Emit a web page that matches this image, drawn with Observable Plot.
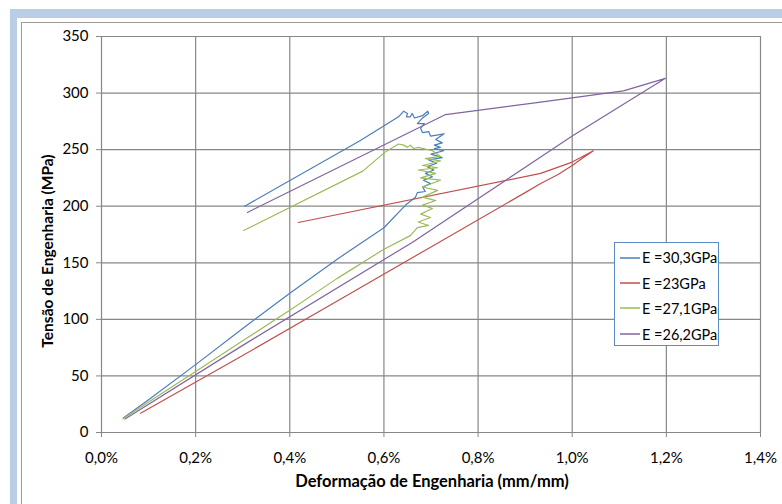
<!DOCTYPE html>
<html><head><meta charset="utf-8">
<script src="https://cdn.jsdelivr.net/npm/d3@7"></script>
<script src="https://cdn.jsdelivr.net/npm/@observablehq/plot@0.6"></script>
<style>
body{margin:0;background:#fff;}
#wrap{position:relative;width:782px;height:504px;overflow:hidden;background:#fff;font-family:Lato,sans-serif;}
.band-top{position:absolute;left:10px;top:9px;right:0;height:9px;background:#b9cde5;}
.band-left{position:absolute;left:10px;top:9px;width:7px;bottom:0;background:#b9cde5;}
.frame{position:absolute;left:21px;top:22px;width:800px;height:520px;border:1px solid #9a9a9a;box-sizing:border-box;}
#chart{position:absolute;left:0;top:0;}
#chart svg{background:transparent;}
#legend{position:absolute;left:614px;top:242px;width:105px;height:104px;border:1px solid #5b8bc6;box-sizing:border-box;background:#fff;}
.item{position:absolute;left:5px;height:16px;display:flex;align-items:center;font-size:14.5px;color:#000;white-space:nowrap;}
.item svg{margin-right:2px;}
.ytitle{position:absolute;left:47px;top:251px;transform:translate(-50%,-50%) rotate(-90deg);font-weight:bold;font-size:15.5px;white-space:nowrap;color:#000;}
.xtitle{position:absolute;left:432px;top:481px;transform:translate(-50%,-50%);font-weight:bold;font-size:16.5px;white-space:nowrap;color:#000;}
</style>
</head><body>
<div id="wrap">
  <div class="band-top"></div>
  <div class="band-left"></div>
  <div class="frame"></div>
  <div id="chart"></div>
  <div class="ytitle">Tensão de Engenharia (MPa)</div>
  <div class="xtitle">Deformação de Engenharia (mm/mm)</div>
  <div id="legend"></div>
</div>
<script>
// Tick values
const xTicks = [0, 0.2, 0.4, 0.6, 0.8, 1.0, 1.2, 1.4];
const yTicks = [0, 50, 100, 150, 200, 250, 300, 350];

// Series labels
const seriesLabels = ["E =30,3GPa", "E =23GPa", "E =27,1GPa", "E =26,2GPa"];

// E = 30,3 GPa (strain in %, stress in MPa)
const blueStrain = [0.047,0.10,0.20,0.30,0.40,0.50,0.60,0.646,0.667,0.671,0.688,0.682,0.699,0.684,0.703,0.688,0.706,0.692,0.712,0.695,0.724,0.700,0.727,0.707,0.720,0.707,0.724,0.710,0.728,0.699,0.695,0.682,0.678,0.686,0.671,0.682,0.695,0.693,0.682,0.665,0.660,0.656,0.648,0.650,0.642,0.631,0.550,0.304];
const blueStress = [13,29,60,92,123,153,181,201,208,212,213,217,220,223,226,229,232,235,238,241,243,246,249,251,252,254,256,259,264,262,266,265,269,273,273,278,282,284,280,278,282,279,279,282,284,279,258,200];

// E = 23 GPa
const redStrain = [0.083,0.30,0.50,0.70,0.90,0.933,0.97,1.00,1.02,1.045,1.00,0.933,0.418];
const redStress = [17,68,116,164,212,220,228,236,242,249,239,229,185.6];

// E = 27,1 GPa
const greenStrain = [0.045,0.10,0.20,0.30,0.40,0.50,0.60,0.656,0.671,0.695,0.673,0.699,0.678,0.703,0.682,0.710,0.682,0.714,0.682,0.720,0.678,0.710,0.673,0.714,0.682,0.720,0.688,0.720,0.703,0.673,0.663,0.656,0.650,0.642,0.631,0.603,0.555,0.302];
const greenStress = [12,27,54,81,108,136,162,174,181,183,186,190,193,198,201,205,208,214,217,223,225,229,232,234,236,240,242,244,249,252,251,254,252,254,255,248,231,178.5];

// E = 26,2 GPa
const purpleStrain = [0.05,0.30,0.66,1.00,1.198,1.109,0.933,0.731,0.31];
const purpleStress = [12,77,168,262,313,302,292,281,194.5];

const rows = (xs, ys) => xs.map((x, i) => ({strain: x, stress: ys[i]}));
const colors = ["#4a7ebb", "#c0504d", "#9bbb59", "#8064a2"];
const series = [rows(blueStrain, blueStress), rows(redStrain, redStress), rows(greenStrain, greenStress), rows(purpleStrain, purpleStress)];

const fmtX = d => d.toFixed(1).replace(".", ",") + "%";
const gridColor = "#878787";

const chart = Plot.plot({
  width: 782, height: 504,
  marginLeft: 101, marginRight: 22, marginTop: 36, marginBottom: 72,
  style: {background: "transparent", fontFamily: "Lato, sans-serif", fontSize: "15px", color: "#000"},
  x: {domain: [0, 1.4]},
  y: {domain: [0, 350]},
  marks: [
    Plot.gridX(xTicks, {stroke: gridColor, strokeOpacity: 1, strokeWidth: 1.2}),
    Plot.gridY(yTicks, {stroke: gridColor, strokeOpacity: 1, strokeWidth: 1.2}),
    Plot.axisX({ticks: xTicks, tickFormat: fmtX, tickSize: 5, tickPadding: 15, stroke: gridColor, fill: "#000", label: null}),
    Plot.axisY({ticks: yTicks, tickSize: 5, tickPadding: 8, stroke: gridColor, fill: "#000", label: null}),
    ...series.map((s, i) => Plot.line(s, {x: "strain", y: "stress", stroke: colors[i], strokeWidth: 1.2}))
  ]
});
document.getElementById("chart").appendChild(chart);

const legend = document.getElementById("legend");
const itemTops = [6.5, 32, 57, 83];
seriesLabels.forEach((lab, i) => {
  const d = document.createElement("div");
  d.className = "item";
  d.style.top = itemTops[i] + "px";
  d.innerHTML = `<svg width="20" height="4"><line x1="0" x2="20" y1="2" y2="2" stroke="${colors[i]}" stroke-width="1.5"/></svg><span>${lab}</span>`;
  legend.appendChild(d);
});
</script>
</body></html>
